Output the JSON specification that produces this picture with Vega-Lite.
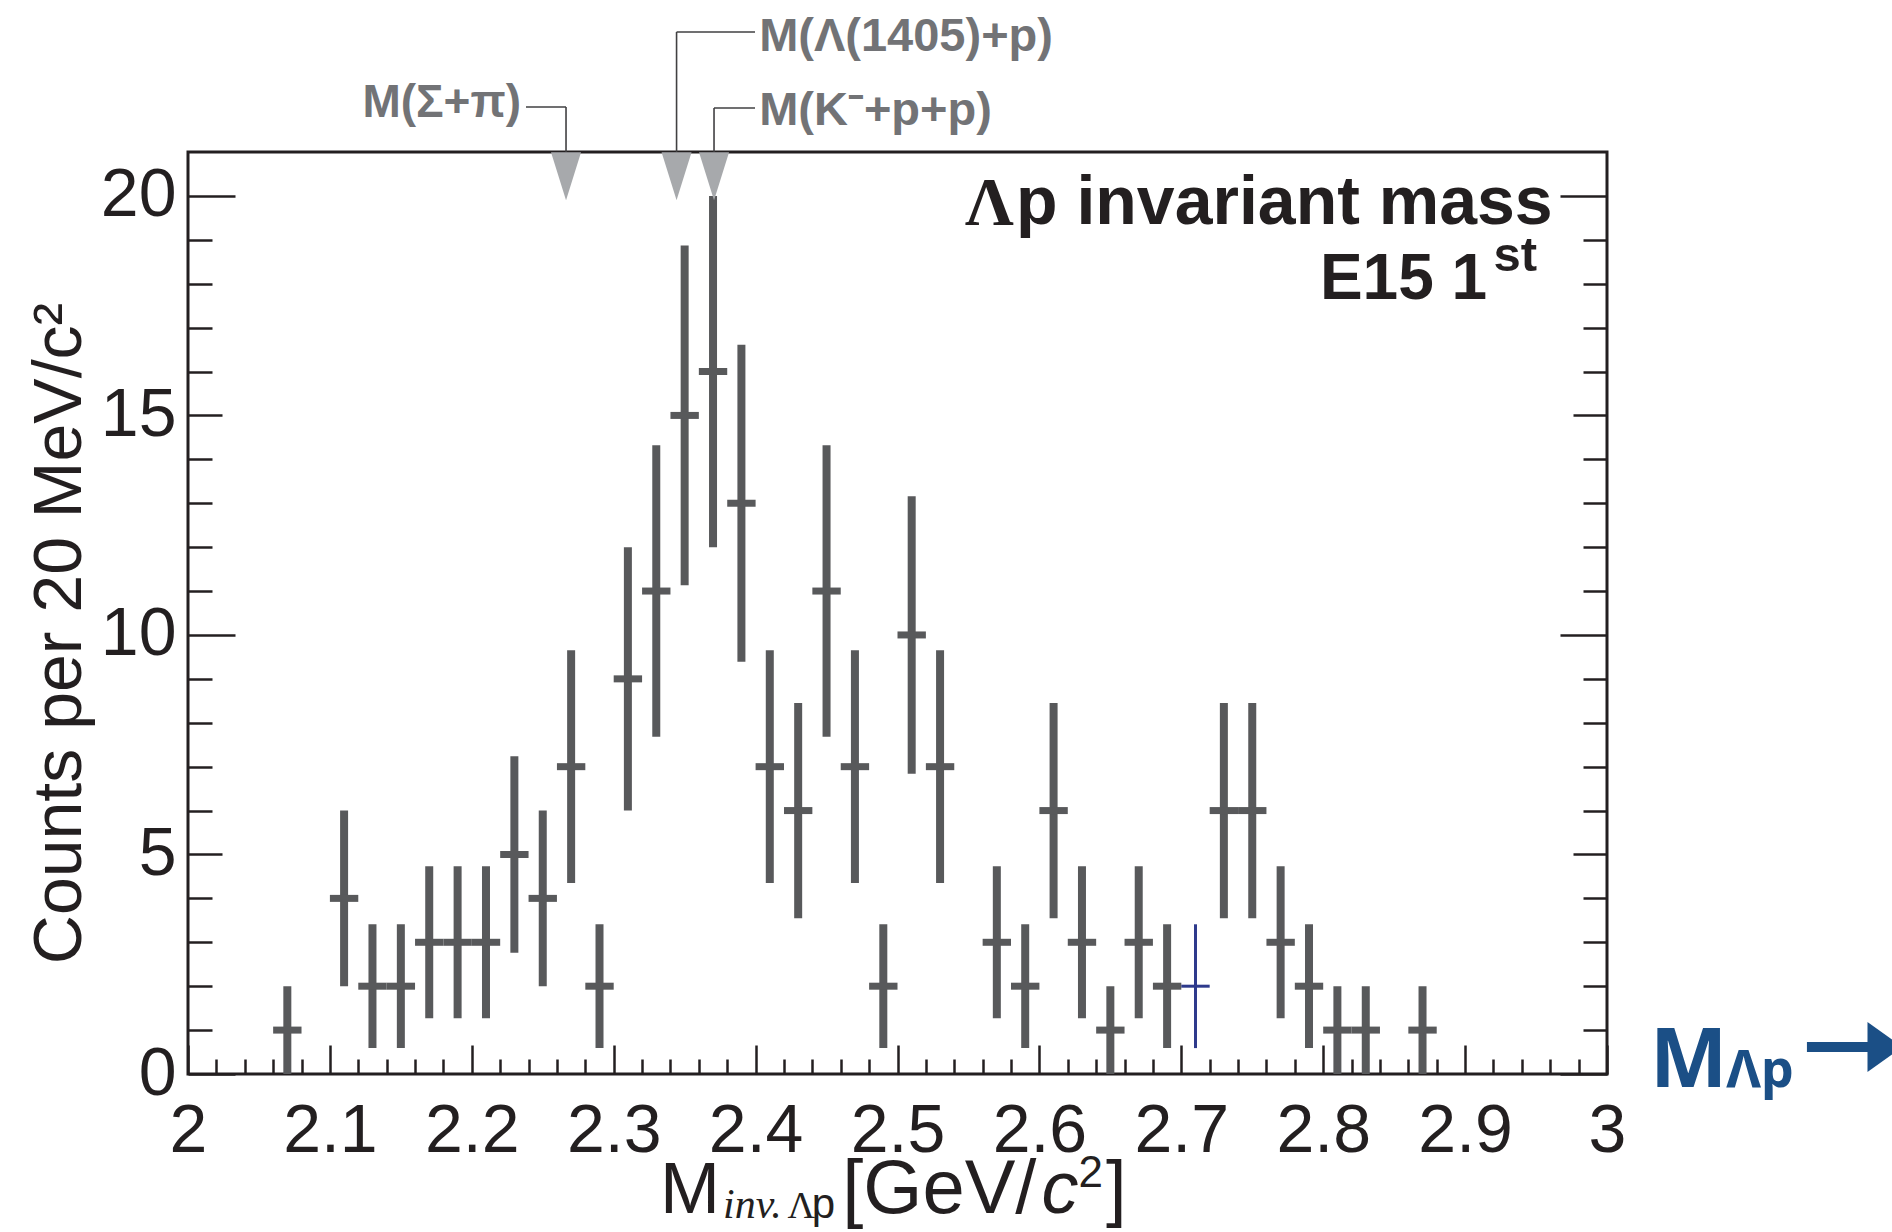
{
"$schema": "https://vega.github.io/schema/vega-lite/v6.json",
"width": 1419, "height": 922,
"autosize": "none",
"padding": {"left": 188, "top": 152, "right": 285, "bottom": 158},
"background": "white",
"config": {"view": {"stroke": "#231f20", "strokeWidth": 3}, "font": "Liberation Sans"},
"datasets": {
"counts": [
{"m":2.07,"n":1,"lo":0,"hi":2,"x0":2.06,"x1":2.08},
{"m":2.11,"n":4,"lo":2,"hi":6,"x0":2.10,"x1":2.12},
{"m":2.13,"n":2,"lo":0.59,"hi":3.41,"x0":2.12,"x1":2.14},
{"m":2.15,"n":2,"lo":0.59,"hi":3.41,"x0":2.14,"x1":2.16},
{"m":2.17,"n":3,"lo":1.27,"hi":4.73,"x0":2.16,"x1":2.18},
{"m":2.19,"n":3,"lo":1.27,"hi":4.73,"x0":2.18,"x1":2.20},
{"m":2.21,"n":3,"lo":1.27,"hi":4.73,"x0":2.20,"x1":2.22},
{"m":2.23,"n":5,"lo":2.76,"hi":7.24,"x0":2.22,"x1":2.24},
{"m":2.25,"n":4,"lo":2,"hi":6,"x0":2.24,"x1":2.26},
{"m":2.27,"n":7,"lo":4.35,"hi":9.65,"x0":2.26,"x1":2.28},
{"m":2.29,"n":2,"lo":0.59,"hi":3.41,"x0":2.28,"x1":2.30},
{"m":2.31,"n":9,"lo":6,"hi":12,"x0":2.30,"x1":2.32},
{"m":2.33,"n":11,"lo":7.68,"hi":14.32,"x0":2.32,"x1":2.34},
{"m":2.35,"n":15,"lo":11.13,"hi":18.87,"x0":2.34,"x1":2.36},
{"m":2.37,"n":16,"lo":12,"hi":20,"x0":2.36,"x1":2.38},
{"m":2.39,"n":13,"lo":9.39,"hi":16.61,"x0":2.38,"x1":2.40},
{"m":2.41,"n":7,"lo":4.35,"hi":9.65,"x0":2.40,"x1":2.42},
{"m":2.43,"n":6,"lo":3.55,"hi":8.45,"x0":2.42,"x1":2.44},
{"m":2.45,"n":11,"lo":7.68,"hi":14.32,"x0":2.44,"x1":2.46},
{"m":2.47,"n":7,"lo":4.35,"hi":9.65,"x0":2.46,"x1":2.48},
{"m":2.49,"n":2,"lo":0.59,"hi":3.41,"x0":2.48,"x1":2.50},
{"m":2.51,"n":10,"lo":6.84,"hi":13.16,"x0":2.50,"x1":2.52},
{"m":2.53,"n":7,"lo":4.35,"hi":9.65,"x0":2.52,"x1":2.54},
{"m":2.57,"n":3,"lo":1.27,"hi":4.73,"x0":2.56,"x1":2.58},
{"m":2.59,"n":2,"lo":0.59,"hi":3.41,"x0":2.58,"x1":2.60},
{"m":2.61,"n":6,"lo":3.55,"hi":8.45,"x0":2.60,"x1":2.62},
{"m":2.63,"n":3,"lo":1.27,"hi":4.73,"x0":2.62,"x1":2.64},
{"m":2.65,"n":1,"lo":0,"hi":2,"x0":2.64,"x1":2.66},
{"m":2.67,"n":3,"lo":1.27,"hi":4.73,"x0":2.66,"x1":2.68},
{"m":2.69,"n":2,"lo":0.59,"hi":3.41,"x0":2.68,"x1":2.70},
{"m":2.71,"n":2,"lo":0.59,"hi":3.41,"x0":2.70,"x1":2.72},
{"m":2.73,"n":6,"lo":3.55,"hi":8.45,"x0":2.72,"x1":2.74},
{"m":2.75,"n":6,"lo":3.55,"hi":8.45,"x0":2.74,"x1":2.76},
{"m":2.77,"n":3,"lo":1.27,"hi":4.73,"x0":2.76,"x1":2.78},
{"m":2.79,"n":2,"lo":0.59,"hi":3.41,"x0":2.78,"x1":2.80},
{"m":2.81,"n":1,"lo":0,"hi":2,"x0":2.80,"x1":2.82},
{"m":2.83,"n":1,"lo":0,"hi":2,"x0":2.82,"x1":2.84},
{"m":2.87,"n":1,"lo":0,"hi":2,"x0":2.86,"x1":2.88}
],
"markers": [
{"label":"M(Σ+π)","mass":2.2664},
{"label":"M(Λ(1405)+p)","mass":2.3443},
{"label":"M(K⁻+p+p)","mass":2.3707}
]
},
"resolve": {"axis": {"x": "independent", "y": "independent"}},
"layer": [
{
"data": {"name": "counts"},
"transform": [{"filter": "datum.m !== 2.71"}],
"mark": {"type": "rule", "color": "#58595b", "strokeWidth": 8},
"encoding": {
"x": {"field": "m", "type": "quantitative", "scale": {"domain": [2, 3], "nice": false, "zero": false},
 "axis": {"orient": "bottom", "title": null, "domain": false, "grid": false,
  "values": [2,2.02,2.04,2.06,2.08,2.1,2.12,2.14,2.16,2.18,2.2,2.22,2.24,2.26,2.28,2.3,2.32,2.34,2.36,2.38,2.4,2.42,2.44,2.46,2.48,2.5,2.52,2.54,2.56,2.58,2.6,2.62,2.64,2.66,2.68,2.7,2.72,2.74,2.76,2.78,2.8,2.82,2.84,2.86,2.88,2.9,2.92,2.94,2.96,2.98,3],
  "tickColor": "#231f20", "tickWidth": 2.5,
  "tickSize": {"condition": {"test": "abs(datum.value*10 - round(datum.value*10)) < 0.001", "value": -29}, "value": -15},
  "labelExpr": "abs(datum.value*10 - round(datum.value*10)) < 0.001 ? format(datum.value, '~g') : ''",
  "labelPadding": 52, "labelFontSize": 68, "labelFont": "Liberation Sans", "labelColor": "#231f20",
  "labelOverlap": false, "labelFlush": false, "labelBound": false}},
"y": {"field": "lo", "type": "quantitative", "scale": {"domain": [0, 21], "nice": false, "zero": false},
 "axis": {"orient": "left", "domain": false, "grid": false,
  "values": [0,1,2,3,4,5,6,7,8,9,10,11,12,13,14,15,16,17,18,19,20],
  "tickColor": "#231f20", "tickWidth": 2.5,
  "tickSize": {"condition": [{"test": "datum.value % 10 === 0", "value": -47}, {"test": "datum.value % 5 === 0", "value": -34}], "value": -24},
  "labelExpr": "datum.value % 5 === 0 ? datum.label : ''",
  "labelPadding": {"condition": {"test": "datum.value % 10 === 0", "value": 59}, "value": 46},
  "labelFontSize": 68, "labelFont": "Liberation Sans", "labelColor": "#231f20",
  "labelOverlap": false, "labelFlush": false, "labelBound": false,
  "title": "Counts per 20 MeV/c²", "titleFont": "Liberation Sans", "titleFontSize": 68, "titleFontWeight": "normal", "titleColor": "#231f20",
  "titleX": -108, "titleY": 481, "titleAngle": -90, "titleBaseline": "alphabetic", "titleAlign": "center"}},
"y2": {"field": "hi"}
}
},
{
"data": {"name": "counts"},
"transform": [{"filter": "datum.m !== 2.71"}],
"mark": {"type": "rule", "color": "#58595b", "strokeWidth": 7},
"encoding": {
"x": {"field": "x0", "type": "quantitative", "axis": null},
"x2": {"field": "x1"},
"y": {"field": "n", "type": "quantitative",
 "axis": {"orient": "right", "title": null, "labels": false, "domain": false, "grid": false,
  "values": [0,1,2,3,4,5,6,7,8,9,10,11,12,13,14,15,16,17,18,19,20],
  "tickColor": "#231f20", "tickWidth": 2.5,
  "tickSize": {"condition": [{"test": "datum.value % 10 === 0", "value": -47}, {"test": "datum.value % 5 === 0", "value": -34}], "value": -24}}}
}
},
{
"data": {"name": "counts"},
"transform": [{"filter": "datum.m === 2.71"}],
"mark": {"type": "rule", "color": "#2e3a8c", "strokeWidth": 3},
"encoding": {
"x": {"field": "m", "type": "quantitative", "axis": null},
"y": {"field": "lo", "type": "quantitative", "axis": null},
"y2": {"field": "hi"}
}
},
{
"data": {"name": "counts"},
"transform": [{"filter": "datum.m === 2.71"}],
"mark": {"type": "rule", "color": "#2e3a8c", "strokeWidth": 3},
"encoding": {
"x": {"field": "x0", "type": "quantitative", "axis": null},
"x2": {"field": "x1"},
"y": {"field": "n", "type": "quantitative", "axis": null}
}
},
{
"data": {"name": "markers"},
"mark": {"type": "point", "shape": "M -0.625 -1 L 0.625 -1 L 0 1 Z", "size": 2304, "filled": true, "fill": "#a7a9ac", "opacity": 1, "strokeWidth": 0},
"encoding": {
"x": {"field": "mass", "type": "quantitative", "axis": null},
"y": {"datum": 20.45, "type": "quantitative", "axis": null}
}
},
{
"data": {"name": "markers"},
"transform": [{"filter": "datum.label === 'M(Σ+π)'"}],
"mark": {"type": "rule", "color": "#414042", "strokeWidth": 1.6},
"encoding": {
"x": {"field": "mass", "type": "quantitative", "axis": null},
"y": {"datum": 21, "type": "quantitative", "axis": null},
"y2": {"datum": 22.025}
}
},
{
"data": {"name": "markers"},
"transform": [{"filter": "datum.label === 'M(Σ+π)'"}],
"mark": {"type": "rule", "color": "#414042", "strokeWidth": 1.6},
"encoding": {
"x": {"field": "mass", "type": "quantitative", "axis": null},
"x2": {"datum": 2.2382},
"y": {"datum": 22.025, "type": "quantitative", "axis": null}
}
},
{
"data": {"name": "markers"},
"transform": [{"filter": "datum.label === 'M(Λ(1405)+p)'"}],
"mark": {"type": "rule", "color": "#414042", "strokeWidth": 1.6},
"encoding": {
"x": {"field": "mass", "type": "quantitative", "axis": null},
"y": {"datum": 21, "type": "quantitative", "axis": null},
"y2": {"datum": 23.733}
}
},
{
"data": {"name": "markers"},
"transform": [{"filter": "datum.label === 'M(Λ(1405)+p)'"}],
"mark": {"type": "rule", "color": "#414042", "strokeWidth": 1.6},
"encoding": {
"x": {"field": "mass", "type": "quantitative", "axis": null},
"x2": {"datum": 2.3996},
"y": {"datum": 23.733, "type": "quantitative", "axis": null}
}
},
{
"data": {"name": "markers"},
"transform": [{"filter": "datum.label === 'M(K⁻+p+p)'"}],
"mark": {"type": "rule", "color": "#414042", "strokeWidth": 1.6},
"encoding": {
"x": {"field": "mass", "type": "quantitative", "axis": null},
"y": {"datum": 21, "type": "quantitative", "axis": null},
"y2": {"datum": 22.002}
}
},
{
"data": {"name": "markers"},
"transform": [{"filter": "datum.label === 'M(K⁻+p+p)'"}],
"mark": {"type": "rule", "color": "#414042", "strokeWidth": 1.6},
"encoding": {
"x": {"field": "mass", "type": "quantitative", "axis": null},
"x2": {"datum": 2.3996},
"y": {"datum": 22.002, "type": "quantitative", "axis": null}
}
},
{
"data": {"name": "markers"},
"transform": [{"filter": "datum.label === 'M(Σ+π)'"}],
"mark": {"type": "text", "align": "right", "baseline": "alphabetic", "font": "Liberation Sans", "fontWeight": "bold", "fontSize": 46, "color": "#727376"},
"encoding": {
"text": {"field": "label"},
"x": {"datum": 2.2347, "type": "quantitative", "axis": null},
"y": {"datum": 21.797, "type": "quantitative", "axis": null}
}
},
{
"data": {"name": "markers"},
"transform": [{"filter": "datum.label === 'M(Λ(1405)+p)'"}],
"mark": {"type": "text", "align": "left", "baseline": "alphabetic", "font": "Liberation Sans", "fontWeight": "bold", "fontSize": 47, "color": "#727376"},
"encoding": {
"text": {"field": "label"},
"x": {"datum": 2.4025, "type": "quantitative", "axis": null},
"y": {"datum": 23.30, "type": "quantitative", "axis": null}
}
},
{
"data": {"name": "markers"},
"transform": [{"filter": "datum.label === 'M(K⁻+p+p)'"}],
"mark": {"type": "text", "align": "left", "baseline": "alphabetic", "font": "Liberation Sans", "fontWeight": "bold", "fontSize": 47, "color": "#727376"},
"encoding": {
"text": {"field": "label"},
"x": {"datum": 2.4025, "type": "quantitative", "axis": null},
"y": {"datum": 21.615, "type": "quantitative", "axis": null}
}
},
{
"data": {"values": [{}]},
"mark": {"type": "text", "text": "Λ", "align": "left", "baseline": "alphabetic", "font": "Liberation Serif", "fontWeight": "bold", "fontSize": 68, "color": "#231f20"},
"encoding": {"x": {"datum": 2.5476, "type": "quantitative", "axis": null}, "y": {"datum": 19.36, "type": "quantitative", "axis": null}}
},
{
"data": {"values": [{}]},
"mark": {"type": "text", "text": "p invariant mass", "align": "left", "baseline": "alphabetic", "font": "Liberation Sans", "fontWeight": "bold", "fontSize": 68, "color": "#231f20"},
"encoding": {"x": {"datum": 2.5835, "type": "quantitative", "axis": null}, "y": {"datum": 19.36, "type": "quantitative", "axis": null}}
},
{
"data": {"values": [{}]},
"mark": {"type": "text", "text": "E15 1", "align": "left", "baseline": "alphabetic", "font": "Liberation Sans", "fontWeight": "bold", "fontSize": 64, "color": "#231f20"},
"encoding": {"x": {"datum": 2.7977, "type": "quantitative", "axis": null}, "y": {"datum": 17.65, "type": "quantitative", "axis": null}}
},
{
"data": {"values": [{}]},
"mark": {"type": "text", "text": "st", "align": "left", "baseline": "alphabetic", "font": "Liberation Sans", "fontWeight": "bold", "fontSize": 49, "color": "#231f20"},
"encoding": {"x": {"datum": 2.9200, "type": "quantitative", "axis": null}, "y": {"datum": 18.3, "type": "quantitative", "axis": null}}
},
{
"data": {"values": [{}]},
"mark": {"type": "text", "text": "M", "align": "left", "baseline": "alphabetic", "font": "Liberation Sans", "fontSize": 72, "color": "#231f20"},
"encoding": {"x": {"datum": 2.3326, "type": "quantitative", "axis": null}, "y": {"datum": -3.166, "type": "quantitative", "axis": null}}
},
{
"data": {"values": [{}]},
"mark": {"type": "text", "text": "inv.", "align": "left", "baseline": "alphabetic", "font": "Liberation Serif", "fontStyle": "italic", "fontSize": 42, "color": "#231f20"},
"encoding": {"x": {"datum": 2.3770, "type": "quantitative", "axis": null}, "y": {"datum": -3.28, "type": "quantitative", "axis": null}}
},
{
"data": {"values": [{}]},
"mark": {"type": "text", "text": "Λ", "align": "left", "baseline": "alphabetic", "font": "Liberation Serif", "fontSize": 38, "color": "#231f20"},
"encoding": {"x": {"datum": 2.4225, "type": "quantitative", "axis": null}, "y": {"datum": -3.28, "type": "quantitative", "axis": null}}
},
{
"data": {"values": [{}]},
"mark": {"type": "text", "text": "p", "align": "left", "baseline": "alphabetic", "font": "Liberation Sans", "fontSize": 42, "color": "#231f20"},
"encoding": {"x": {"datum": 2.4395, "type": "quantitative", "axis": null}, "y": {"datum": -3.28, "type": "quantitative", "axis": null}}
},
{
"data": {"values": [{}]},
"mark": {"type": "text", "text": "[GeV/", "align": "left", "baseline": "alphabetic", "font": "Liberation Sans", "fontSize": 76, "color": "#231f20"},
"encoding": {"x": {"datum": 2.4610, "type": "quantitative", "axis": null}, "y": {"datum": -3.166, "type": "quantitative", "axis": null}}
},
{
"data": {"values": [{}]},
"mark": {"type": "text", "text": "c", "align": "left", "baseline": "alphabetic", "font": "Liberation Sans", "fontStyle": "italic", "fontSize": 74, "color": "#231f20"},
"encoding": {"x": {"datum": 2.6015, "type": "quantitative", "axis": null}, "y": {"datum": -3.166, "type": "quantitative", "axis": null}}
},
{
"data": {"values": [{}]},
"mark": {"type": "text", "text": "2", "align": "left", "baseline": "alphabetic", "font": "Liberation Sans", "fontSize": 44, "color": "#231f20"},
"encoding": {"x": {"datum": 2.6275, "type": "quantitative", "axis": null}, "y": {"datum": -2.574, "type": "quantitative", "axis": null}}
},
{
"data": {"values": [{}]},
"mark": {"type": "text", "text": "]", "align": "left", "baseline": "alphabetic", "font": "Liberation Sans", "fontSize": 74, "color": "#231f20"},
"encoding": {"x": {"datum": 2.6470, "type": "quantitative", "axis": null}, "y": {"datum": -3.166, "type": "quantitative", "axis": null}}
},
{
"data": {"values": [{}]},
"mark": {"type": "text", "text": "M", "align": "left", "baseline": "alphabetic", "font": "Noto Sans", "fontWeight": "bold", "fontSize": 82, "color": "#1b4f86"},
"encoding": {"x": {"datum": 3.0303, "type": "quantitative", "axis": null}, "y": {"datum": -0.296, "type": "quantitative", "axis": null}}
},
{
"data": {"values": [{}]},
"mark": {"type": "text", "text": "Λp", "align": "left", "baseline": "alphabetic", "font": "Noto Sans", "fontWeight": "bold", "fontSize": 52, "color": "#1b4f86"},
"encoding": {"x": {"datum": 3.0840, "type": "quantitative", "axis": null}, "y": {"datum": -0.296, "type": "quantitative", "axis": null}}
},
{
"data": {"values": [{}]},
"mark": {"type": "rule", "color": "#1b4f86", "strokeWidth": 10},
"encoding": {"x": {"datum": 3.1409, "type": "quantitative", "axis": null}, "x2": {"datum": 3.1870}, "y": {"datum": 0.615, "type": "quantitative", "axis": null}}
},
{
"data": {"values": [{}]},
"mark": {"type": "point", "shape": "M -0.7 -1 L 0.7 0 L -0.7 1 Z", "size": 2500, "filled": true, "fill": "#1b4f86", "opacity": 1, "strokeWidth": 0},
"encoding": {"x": {"datum": 3.1959, "type": "quantitative", "axis": null}, "y": {"datum": 0.615, "type": "quantitative", "axis": null}}
}
]
}
